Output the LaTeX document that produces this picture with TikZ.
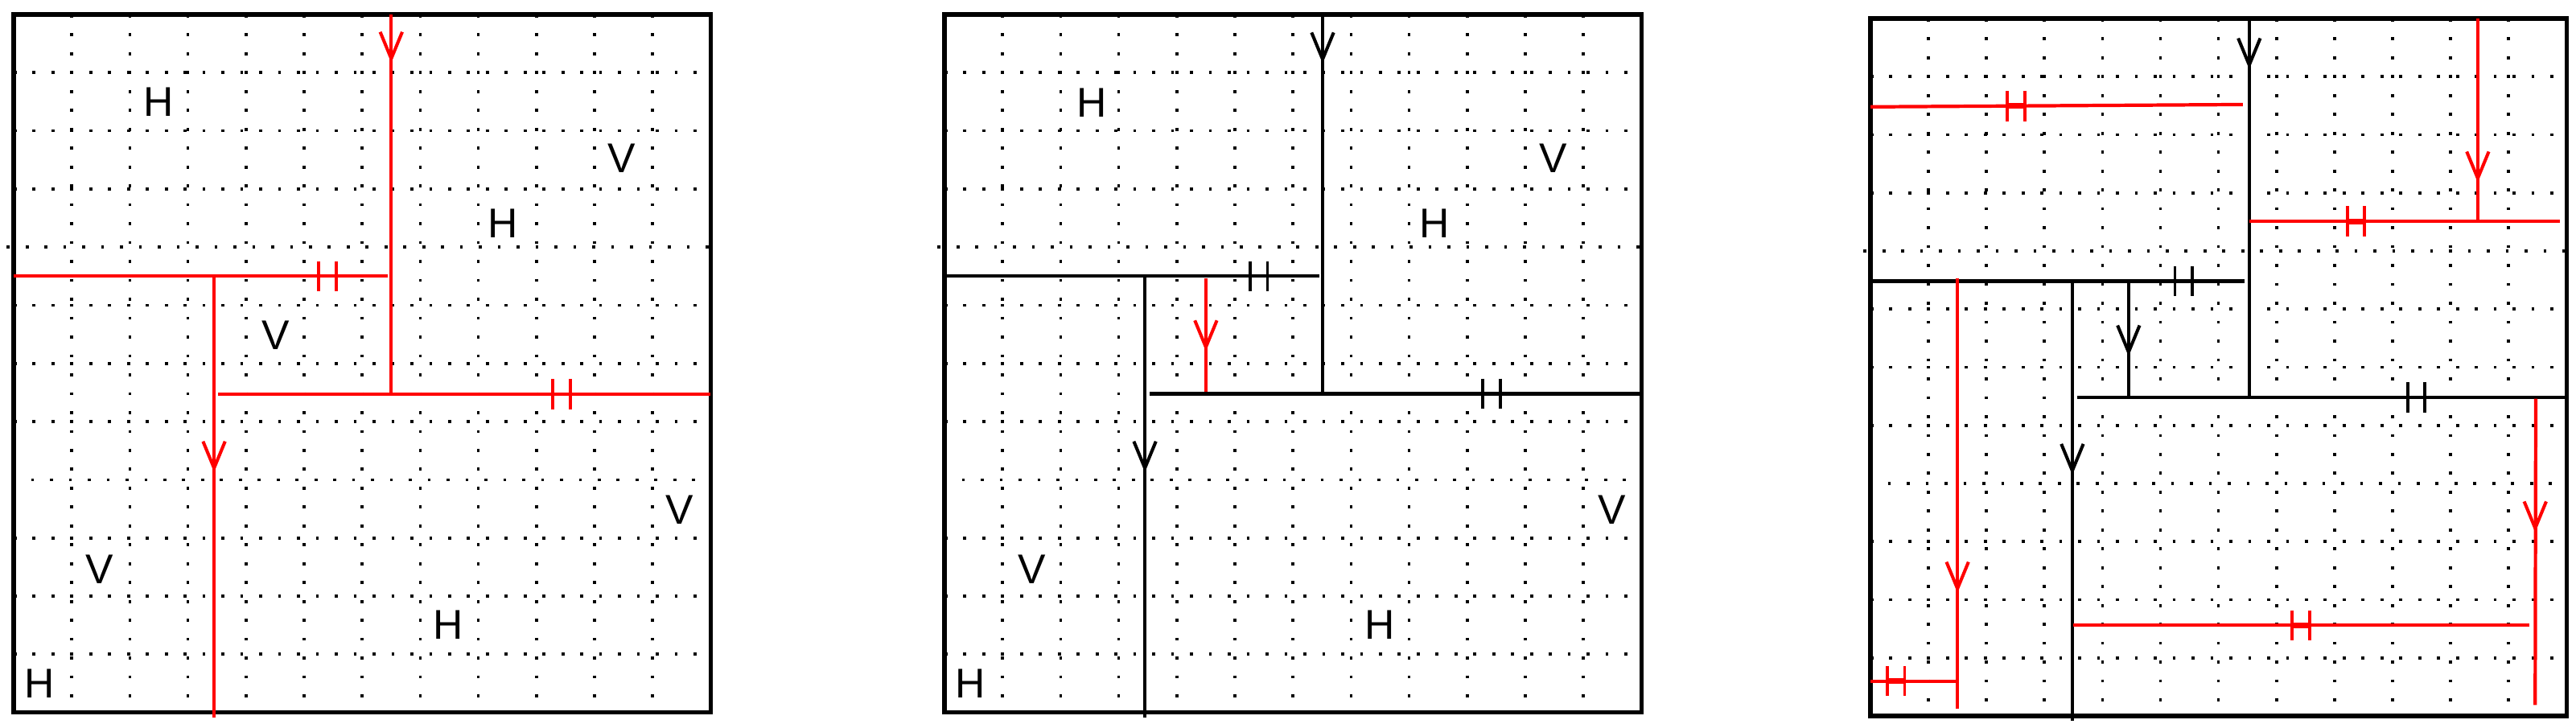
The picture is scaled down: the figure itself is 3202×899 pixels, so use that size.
\documentclass[tikz,border=0pt]{standalone}
\usepackage{fontspec}
\setmainfont{Liberation Sans}
\newcommand\mygrid{%
  \foreach \k in {1,...,11} {\draw[dotline] (\k,0) -- (\k,12);}
  \foreach \k in {1,2,3,5,6,7,9,10,11} {\draw[dotline] (0,\k) -- (12,\k);}
  \draw[dotline] (-0.12,4) -- (12,4);
  \draw[dotline] (0.3,8) -- (12,8);
  \draw[box] (0,0) rectangle (12,12);
}
\begin{document}
\begin{tikzpicture}[x=0.1mm,y=-0.1mm,
  box/.style={line width=1.5pt},
  cut/.style={line width=1.2pt},
  thincut/.style={line width=1pt},
  dotline/.style={line width=1.05pt, dash pattern=on 1.05pt off 5.63pt},
  lbl/.style={inner sep=0pt, font=\fontsize{14.7}{16}\selectfont},
  vmark/.pic={\draw[line width=1.15pt] (-0.19,-0.46) -- (0,0) -- (0.19,-0.46);},
  hmark/.pic={\draw[line width=1.05pt] (-0.15,-0.26) -- (-0.15,0.26) (0.15,-0.26) -- (0.15,0.26);},
  hmarkb/.pic={\draw[line width=1.05pt] (-0.15,-0.26) -- (-0.15,0.26) (0.15,-0.26) -- (0.15,0.26);
               \draw[line width=1.9pt] (-0.15,0) -- (0.15,0);}
]
\useasboundingbox (0,0) rectangle (3202,899);

% ---------- panel 1 ----------
\begin{scope}[shift={(1.7mm,-1.8mm)}, x=7.22mm, y=-7.23mm]
  \mygrid
  \draw[cut,red] (6.5,0) -- (6.5,6.53);
  \draw[cut,red] (0,4.5) -- (6.44,4.5);
  \draw[cut,red] (3.45,4.47) -- (3.45,12.09);
  \draw[cut,red] (3.52,6.53) -- (12,6.53);
  \pic[red] at (6.5,0.76) {vmark};
  \pic[red] at (3.45,7.8) {vmark};
  \pic[red] at (5.4,4.5) {hmark};
  \pic[red] at (9.43,6.53) {hmark};
  \node[lbl] (a1) at (2.5,1.5) {H};
  \node[lbl] (a2) at (10.47,2.47) {V};
  \node[lbl] (a3) at (8.43,3.59) {H};
  \node[lbl] (a4) at (4.51,5.51) {V};
  \node[lbl] (a5) at (11.46,8.52) {V};
  \node[lbl] (a6) at (1.48,9.54) {V};
  \node[lbl] (a7) at (7.48,10.5) {H};
  \node[lbl] (a8) at (0.44,11.5) {H};
\end{scope}

% ---------- panel 2 ----------
\begin{scope}[shift={(117.4mm,-1.8mm)}, x=7.22mm, y=-7.23mm]
  \mygrid
  \draw[cut] (6.51,0) -- (6.51,6.52);
  \draw[cut] (0,4.5) -- (6.45,4.5);
  \draw[cut] (3.45,4.47) -- (3.45,12.09);
  \draw[cut] (3.53,6.52) -- (12,6.52);
  \pic at (6.51,0.77) {vmark};
  \pic at (3.45,7.8) {vmark};
  \pic at (5.41,4.5) {hmark};
  \pic at (9.42,6.52) {hmark};
  \draw[cut,red] (4.5,4.54) -- (4.5,6.48);
  \pic[red] at (4.5,5.72) {vmark};
  \node[lbl] (b1) at (2.53,1.52) {H};
  \node[lbl] (b2) at (10.48,2.47) {V};
  \node[lbl] (b3) at (8.44,3.59) {H};
  \node[lbl] (b5) at (11.49,8.52) {V};
  \node[lbl] (b6) at (1.5,9.54) {V};
  \node[lbl] (b7) at (7.5,10.5) {H};
  \node[lbl] (b8) at (0.45,11.5) {H};
\end{scope}

% ---------- panel 3 ----------
\begin{scope}[shift={(232.5mm,-2.3mm)}, x=7.21mm, y=-7.225mm]
  \mygrid
  \draw[cut] (6.53,0) -- (6.53,6.52);
  \draw[cut] (0,4.52) -- (6.45,4.52);
  \draw[cut] (3.48,4.49) -- (3.48,12.08);
  \draw[cut] (3.56,6.52) -- (12,6.52);
  \draw[thincut] (4.45,4.55) -- (4.45,6.52);
  \pic at (6.53,0.8) {vmark};
  \pic at (3.48,7.78) {vmark};
  \pic at (4.45,5.74) {vmark};
  \pic at (5.4,4.52) {hmark};
  \pic at (9.41,6.52) {hmark};
  % red cuts
  \draw[cut,red] (0,1.52) -- (6.42,1.48);
  \draw[cut,red] (10.47,0) -- (10.47,3.49);
  \draw[cut,red] (6.53,3.49) -- (11.88,3.49);
  \draw[cut,red] (1.5,4.47) -- (1.5,11.88);
  \draw[cut,red] (0,11.4) -- (1.5,11.4);
  \draw[cut,red] (3.5,10.44) -- (11.36,10.44);
  \draw[cut,red] (11.47,6.54) -- (11.46,11.81);
  \pic[red] at (10.47,2.75) {vmark};
  \pic[red] at (1.5,9.81) {vmark};
  \pic[red] at (11.46,8.77) {vmark};
  \pic[red] at (2.51,1.505) {hmarkb};
  \pic[red] at (8.37,3.49) {hmarkb};
  \pic[red] at (0.44,11.4) {hmarkb};
  \pic[red] at (7.42,10.44) {hmarkb};
\end{scope}
\end{tikzpicture}
\end{document}
